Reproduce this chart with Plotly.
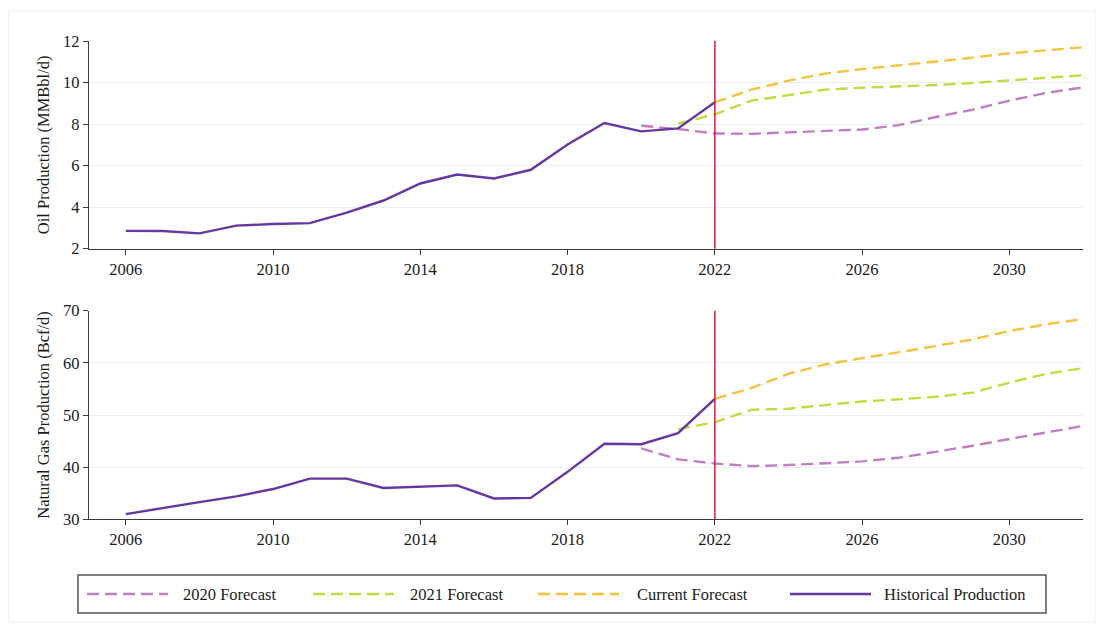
import plotly.graph_objects as go

# ---------------- data ----------------
hist_years = list(range(2006, 2023))
oil_hist = [2.86, 2.85, 2.74, 3.11, 3.19, 3.23, 3.74, 4.32, 5.14, 5.57, 5.38, 5.80, 7.02, 8.05, 7.65, 7.79, 9.05]
gas_hist = [31.0, 32.2, 33.3, 34.4, 35.8, 37.8, 37.8, 36.0, 36.2, 36.5, 34.0, 34.1, 39.1, 44.5, 44.4, 46.5, 53.1]

f2020_years = list(range(2020, 2033))
oil_f2020 = [7.92, 7.76, 7.55, 7.53, 7.60, 7.68, 7.74, 7.95, 8.34, 8.69, 9.13, 9.50, 9.77]
gas_f2020 = [43.6, 41.5, 40.7, 40.2, 40.4, 40.7, 41.1, 41.8, 42.9, 44.1, 45.4, 46.6, 47.9]

f2021_years = list(range(2021, 2033))
oil_f2021 = [8.02, 8.47, 9.13, 9.40, 9.66, 9.75, 9.80, 9.88, 9.98, 10.11, 10.24, 10.35]
gas_f2021 = [47.3, 48.6, 51.0, 51.2, 51.9, 52.6, 53.0, 53.5, 54.3, 56.2, 57.9, 59.0]

cur_years = list(range(2022, 2033))
oil_cur = [9.05, 9.66, 10.09, 10.43, 10.65, 10.82, 11.01, 11.20, 11.41, 11.55, 11.70]
gas_cur = [53.1, 55.2, 57.9, 59.7, 60.9, 62.0, 63.2, 64.5, 66.1, 67.4, 68.4]

current_year = 2022
x_ticks = [2006, 2010, 2014, 2018, 2022, 2026, 2030]
oil_ticks = [2, 4, 6, 8, 10, 12]
gas_ticks = [30, 40, 50, 60, 70]

legend_names = ["2020 Forecast", "2021 Forecast", "Current Forecast", "Historical Production"]

# ---------------- styles ----------------
C_2020 = "#c07fc4"
C_2021 = "#c6d943"
C_CUR = "#f7c33f"
C_HIST = "#6537a0"
C_RED = "#d7193f"
DASH = "12px,6px"
FONT = "Liberation Serif"
TXT = "#1a1a1a"
W, H = 1104, 630

fig = go.Figure()

series = [
    (f2020_years, oil_f2020, gas_f2020, C_2020, DASH, legend_names[0]),
    (f2021_years, oil_f2021, gas_f2021, C_2021, DASH, legend_names[1]),
    (cur_years, oil_cur, gas_cur, C_CUR, DASH, legend_names[2]),
    (hist_years, oil_hist, gas_hist, C_HIST, "solid", legend_names[3]),
]
for yrs, oil, gas, col, dash, name in series:
    fig.add_trace(go.Scatter(x=yrs, y=oil, mode="lines", name=name,
                             line=dict(color=col, width=2.4, dash=dash),
                             xaxis="x", yaxis="y", showlegend=False))
    fig.add_trace(go.Scatter(x=yrs, y=gas, mode="lines", name=name,
                             line=dict(color=col, width=2.4, dash=dash),
                             xaxis="x2", yaxis="y2", showlegend=False))

xdom = [81 / W, 1075 / W]
top_dom = [1 - 240.7 / H, 1 - 33 / H]
bot_dom = [1 - 511.3 / H, 1 - 302.7 / H]

axis_common = dict(
    showline=True, linecolor="#3a3a3a", linewidth=1.3,
    ticks="outside", ticklen=5, tickcolor="#3a3a3a", tickwidth=1.3,
    tickfont=dict(family=FONT, size=16.5, color=TXT),
    automargin=False, zeroline=False,
)

fig.update_layout(
    width=W, height=H,
    margin=dict(l=0, r=0, t=0, b=0),
    paper_bgcolor="white", plot_bgcolor="white",
    font=dict(family=FONT, size=16, color=TXT),
    showlegend=False,
    xaxis=dict(domain=xdom, anchor="y", range=[2005, 2032], tickvals=x_ticks,
               showgrid=False, **axis_common),
    yaxis=dict(domain=top_dom, anchor="x", range=[2, 12], tickvals=oil_ticks,
               showgrid=True, gridcolor="#e4f1f1", gridwidth=1,
               title=dict(text="Oil Production (MMBbl/d)", standoff=9,
                          font=dict(family=FONT, size=16.5, color=TXT)),
               **axis_common),
    xaxis2=dict(domain=xdom, anchor="y2", range=[2005, 2032], tickvals=x_ticks,
                showgrid=False, **axis_common),
    yaxis2=dict(domain=bot_dom, anchor="x2", range=[30, 70], tickvals=gas_ticks,
                showgrid=True, gridcolor="#e4f1f1", gridwidth=1,
                title=dict(text="Natural Gas Production (Bcf/d)", standoff=9,
                           font=dict(family=FONT, size=16.5, color=TXT)),
                **axis_common),
)

shapes = []
# vertical current-year markers
for xr, yr in [("x", "y domain"), ("x2", "y2 domain")]:
    shapes.append(dict(type="line", xref=xr, yref=yr, x0=current_year, x1=current_year,
                       y0=0, y1=1, line=dict(color=C_RED, width=1.5), layer="above"))

# faint outer frame
shapes.append(dict(type="rect", xref="paper", yref="paper",
                   x0=0.5 / W, x1=1088 / W, y0=1 - 614 / H, y1=1 - 3 / H,
                   line=dict(color="#ededed", width=1), layer="below"))

# custom legend
shapes.append(dict(type="rect", xref="paper", yref="paper",
                   x0=70 / W, x1=1038 / W, y0=1 - 605 / H, y1=1 - 567 / H,
                   line=dict(color="#555555", width=1.5), fillcolor="white"))
leg_line_x = [79, 305, 530, 782]
leg_text_x = [173, 400, 627, 874]
leg_cols = [C_2020, C_2021, C_CUR, C_HIST]
leg_dash = [DASH, DASH, DASH, "solid"]
leg_y = 1 - 586 / H
annotations = []
for lx, tx, col, dsh, name in zip(leg_line_x, leg_text_x, leg_cols, leg_dash, legend_names):
    shapes.append(dict(type="line", xref="paper", yref="paper",
                       x0=lx / W, x1=(lx + 81) / W, y0=leg_y, y1=leg_y,
                       line=dict(color=col, width=2.6, dash=dsh)))
    annotations.append(dict(xref="paper", yref="paper", x=tx / W, y=leg_y,
                            xanchor="left", yanchor="middle", text=name, showarrow=False,
                            font=dict(family=FONT, size=16.5, color=TXT)))

fig.update_layout(shapes=shapes, annotations=annotations)

fig.write_html("out.html")
